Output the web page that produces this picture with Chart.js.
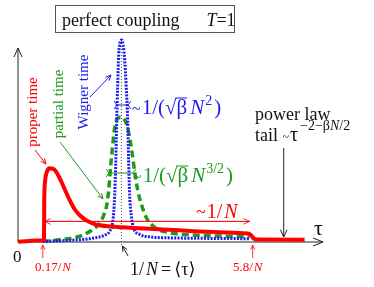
<!DOCTYPE html>
<html>
<head>
<meta charset="utf-8">
<script src="https://cdn.jsdelivr.net/npm/chart.js@4/dist/chart.umd.min.js"></script>
<style>
  html, body { margin: 0; padding: 0; background: #fff; }
</style>
</head>
<body>
<canvas id="chart" width="374" height="287"></canvas>
<script>
/* ======================================================
   TIME DELAY DISTRIBUTIONS (schematic, perfect coupling)
   tau in units of 1/N, density in arbitrary units
====================================================== */

const properTau = [0, 0.239, 0.251, 0.254, 0.263, 0.278, 0.307, 0.336, 0.365, 0.403, 0.452, 0.500, 0.548, 0.597, 0.661, 0.722, 0.790, 0.935, 1.048, 1.370, 1.661, 1.951, 2.221, 2.250, 2.279, 2.318, 2.772];
const properP   = [0.01, 0.08, 0.09, 2.03, 3.00, 3.39, 3.58, 3.56, 3.44, 3.10, 2.56, 2.03, 1.59, 1.30, 1.05, 0.91, 0.81, 0.74, 0.70, 0.62, 0.53, 0.47, 0.41, 0.35, 0.18, 0.12, 0.11];

const partialTau = [0.239, 0.403, 0.597, 0.712, 0.790, 0.829, 0.858, 0.877, 0.897, 0.916, 0.935, 0.959, 0.993, 1.027, 1.061, 1.100, 1.129, 1.158, 1.196, 1.245, 1.322, 1.467, 1.757, 2.241];
const partialP   = [0.03, 0.11, 0.28, 0.57, 0.91, 1.30, 1.78, 2.51, 3.73, 4.70, 5.53, 5.97, 6.06, 5.97, 5.53, 4.46, 3.39, 2.51, 1.78, 1.15, 0.71, 0.45, 0.33, 0.25];

const wignerTau = [0.239, 0.403, 0.597, 0.742, 0.838, 0.887, 0.911, 0.926, 0.935, 0.945, 0.955, 0.964, 0.974, 0.988, 1.003, 1.017, 1.032, 1.046, 1.061, 1.070, 1.080, 1.095, 1.119, 1.177, 1.273, 1.467, 1.757, 2.241];
const wignerP   = [0.03, 0.06, 0.11, 0.20, 0.33, 0.52, 0.86, 1.44, 2.27, 3.73, 5.92, 7.62, 9.08, 9.71, 9.81, 9.56, 8.83, 7.62, 5.92, 3.97, 2.27, 1.30, 0.67, 0.37, 0.25, 0.20, 0.18, 0.16];

const RED = '#ff0000';
const GREEN = '#1f9a1f';
const BLUE = '#1c1cf0';
const SERIF = "'Liberation Serif', 'DejaVu Serif', serif";

function toPoints(xs, ys) {
    return xs.map((x, i) => ({ x, y: ys[i] }));
}

function arrow(ctx, x1, y1, x2, y2, color, w, head) {
    ctx.save();
    ctx.strokeStyle = color;
    ctx.lineWidth = w;
    ctx.beginPath();
    ctx.moveTo(x1, y1);
    ctx.lineTo(x2, y2);
    ctx.stroke();
    const a = Math.atan2(y2 - y1, x2 - x1);
    ctx.beginPath();
    ctx.moveTo(x2 - head * Math.cos(a - 0.42), y2 - head * Math.sin(a - 0.42));
    ctx.lineTo(x2, y2);
    ctx.lineTo(x2 - head * Math.cos(a + 0.42), y2 - head * Math.sin(a + 0.42));
    ctx.stroke();
    ctx.restore();
}

// draws a run of text pieces: {t, f, dy, over, gap}
function runs(ctx, x, y, parts, color) {
    ctx.save();
    ctx.fillStyle = color;
    ctx.strokeStyle = color;
    ctx.textAlign = 'left';
    ctx.textBaseline = 'alphabetic';
    parts.forEach(p => {
        ctx.font = p.f;
        ctx.fillText(p.t, x, y + (p.dy || 0));
        const w = ctx.measureText(p.t).width;
        if (p.over) {
            ctx.lineWidth = 1;
            ctx.beginPath();
            ctx.moveTo(x - 1, y - p.over);
            ctx.lineTo(x + w, y - p.over);
            ctx.stroke();
        }
        x += w + (p.gap || 0);
    });
    ctx.restore();
    return x;
}

function vtext(ctx, text, x, y, color, font) {
    ctx.save();
    ctx.translate(x, y);
    ctx.rotate(-Math.PI / 2);
    ctx.fillStyle = color;
    ctx.font = font;
    ctx.textAlign = 'center';
    ctx.textBaseline = 'middle';
    ctx.fillText(text, 0, 0);
    ctx.restore();
}

function widthMark(ctx, x1, x2, y, color) {
    ctx.save();
    ctx.strokeStyle = color;
    ctx.lineWidth = 1;
    ctx.beginPath();
    ctx.moveTo(x1, y);
    ctx.lineTo(x2, y);
    ctx.moveTo(x1 - 3, y - 4); ctx.lineTo(x1, y); ctx.lineTo(x1 - 3, y + 4);
    ctx.moveTo(x2 + 3, y - 4); ctx.lineTo(x2, y); ctx.lineTo(x2 + 3, y + 4);
    ctx.stroke();
    ctx.restore();
}

const axesPlugin = {
    id: 'axesPlugin',
    beforeDatasetsDraw(chart) {
        const { ctx, chartArea, scales } = chart;
        const x0 = chartArea.left, y0 = chartArea.bottom;

        ctx.save();
        ctx.strokeStyle = '#222';
        ctx.lineWidth = 1;
        // y axis
        ctx.beginPath();
        ctx.moveTo(x0, y0);
        ctx.lineTo(x0, 48);
        ctx.moveTo(x0 - 4, 57); ctx.lineTo(x0, 48); ctx.lineTo(x0 + 4, 57);
        // x axis
        ctx.moveTo(x0, y0);
        ctx.lineTo(chartArea.right, y0);
        ctx.moveTo(chartArea.right - 10, y0 - 4); ctx.lineTo(chartArea.right, y0); ctx.lineTo(chartArea.right - 10, y0 + 4);
        ctx.stroke();

        // mean time marker <tau> = 1/N
        const xm = scales.x.getPixelForValue(1);
        ctx.strokeStyle = '#555';
        ctx.setLineDash([1, 2]);
        ctx.beginPath();
        ctx.moveTo(xm, 40);
        ctx.lineTo(xm, y0 + 4);
        ctx.stroke();
        ctx.restore();
    },
    afterDatasetsDraw(chart) {
        const { ctx, scales } = chart;
        const xs = scales.x, ys = scales.y;

        // title box
        ctx.save();
        ctx.strokeStyle = '#555';
        ctx.lineWidth = 1;
        ctx.strokeRect(55.5, 5.5, 179, 27);
        ctx.restore();
        runs(ctx, 62, 26, [{ t: 'perfect coupling', f: '18px ' + SERIF, gap: 27 },
                           { t: 'T', f: 'italic 18px ' + SERIF },
                           { t: '=1', f: '18px ' + SERIF }], '#111');

        // curve labels
        vtext(ctx, 'proper time', 33, 112, RED, '15px ' + SERIF);
        arrow(ctx, 35, 150, 46, 164, RED, 1, 6);
        vtext(ctx, 'partial time', 59, 104, GREEN, '15px ' + SERIF);
        arrow(ctx, 60, 142, 103, 199, GREEN, 1, 6);
        vtext(ctx, 'Wigner time', 84, 92, BLUE, '15px ' + SERIF);
        arrow(ctx, 90, 97, 111, 75, BLUE, 1, 6);

        // peak widths
        widthMark(ctx, 117, 128, 105, BLUE);
        runs(ctx, 132, 114, [{ t: '~', f: '16px ' + SERIF, gap: 1 },
                             { t: '1/(', f: '21px ' + SERIF },
                             { t: '√', f: '21px ' + SERIF },
                             { t: 'β', f: '21px ' + SERIF, over: 16, gap: 3 },
                             { t: 'N', f: 'italic 21px ' + SERIF, gap: 1 },
                             { t: '2', f: '14px ' + SERIF, dy: -9, gap: 2 },
                             { t: ')', f: '21px ' + SERIF }], BLUE);
        widthMark(ctx, 109, 133, 173, GREEN);
        runs(ctx, 133, 182, [{ t: '~', f: '16px ' + SERIF, gap: 1 },
                             { t: '1/(', f: '21px ' + SERIF },
                             { t: '√', f: '21px ' + SERIF },
                             { t: 'β', f: '21px ' + SERIF, over: 16, gap: 3 },
                             { t: 'N', f: 'italic 21px ' + SERIF, gap: 1 },
                             { t: '3/2', f: '14px ' + SERIF, dy: -9, gap: 2 },
                             { t: ')', f: '21px ' + SERIF }], GREEN);

        // support width ~1/N, from 0.17/N to 5.8/N
        const yw = ys.getPixelForValue(1.0);
        const xa = xs.getPixelForValue(0.254), xb = xs.getPixelForValue(2.241);
        arrow(ctx, xb, yw, xa, yw, RED, 0.8, 7);
        arrow(ctx, xa, yw, xb, yw, RED, 0.8, 7);
        runs(ctx, 196, 218, [{ t: '~', f: '18px ' + SERIF, gap: 1 },
                             { t: '1/', f: '20px ' + SERIF, gap: 2 },
                             { t: 'N', f: 'italic 20px ' + SERIF }], RED);

        // power law tail
        arrow(ctx, xs.getPixelForValue(2.57), 148, xs.getPixelForValue(2.57), 237, '#222', 1, 8);
        runs(ctx, 255, 120, [{ t: 'power law', f: '18px ' + SERIF }], '#111');
        let xe = runs(ctx, 255, 141, [{ t: 'tail ', f: '18px ' + SERIF },
                                      { t: '~', f: '12px ' + SERIF, gap: 1 },
                                      { t: 'τ', f: '20px ' + SERIF, gap: 2 }], '#111');
        runs(ctx, xe, 130, [{ t: '−2−β', f: '14px ' + SERIF },
                            { t: 'N', f: 'italic 14px ' + SERIF },
                            { t: '/2', f: '14px ' + SERIF }], '#111');

        // axis labels
        runs(ctx, 314, 235, [{ t: 'τ', f: '22px ' + SERIF }], '#111');
        runs(ctx, 13, 262, [{ t: '0', f: '17px ' + SERIF }], '#111');

        // edges of the support
        const xl = xs.getPixelForValue(0.24), xr = xs.getPixelForValue(2.27);
        arrow(ctx, xl, 258, xl, 245, RED, 0.8, 5);
        arrow(ctx, xr, 258, xr, 245, RED, 0.8, 5);
        runs(ctx, 35, 271, [{ t: '0.17/', f: '13px ' + SERIF, gap: 1 },
                            { t: 'N', f: 'italic 13px ' + SERIF }], RED);
        runs(ctx, 233, 271, [{ t: '5.8/', f: '13px ' + SERIF, gap: 1 },
                             { t: 'N', f: 'italic 13px ' + SERIF }], RED);

        // mean
        arrow(ctx, 128, 256, xs.getPixelForValue(1) + 1, 246, '#222', 1, 6);
        runs(ctx, 130, 275, [{ t: '1/', f: '18px ' + SERIF, gap: 2 },
                             { t: 'N', f: 'italic 18px ' + SERIF, gap: 3 },
                             { t: '=', f: '18px ' + SERIF, gap: 3 },
                             { t: '⟨τ⟩', f: '18px ' + SERIF }], '#111');
    }
};

new Chart(document.getElementById('chart').getContext('2d'), {
    type: 'line',
    data: {
        datasets: [
            {
                label: 'proper time',
                data: toPoints(properTau, properP),
                borderColor: RED,
                borderWidth: 4,
                cubicInterpolationMode: 'monotone'
            },
            {
                label: 'Wigner time',
                data: toPoints(wignerTau, wignerP),
                borderColor: BLUE,
                borderWidth: 3,
                borderDash: [2, 1.3],
                cubicInterpolationMode: 'monotone'
            },
            {
                label: 'partial time',
                data: toPoints(partialTau, partialP),
                borderColor: GREEN,
                borderWidth: 3.5,
                borderDash: [7, 4],
                cubicInterpolationMode: 'monotone'
            }
        ]
    },
    options: {
        responsive: false,
        animation: false,
        devicePixelRatio: 1,
        layout: { padding: { left: 18, right: 51, top: 36, bottom: 45 } },
        elements: { point: { radius: 0 }, line: { fill: false } },
        datasets: { line: { clip: false } },
        plugins: { legend: { display: false }, tooltip: { enabled: false } },
        scales: {
            x: { type: 'linear', min: 0, max: 2.95, display: false },
            y: { min: 0, max: 10, display: false }
        }
    },
    plugins: [axesPlugin]
});
</script>
</body>
</html>
